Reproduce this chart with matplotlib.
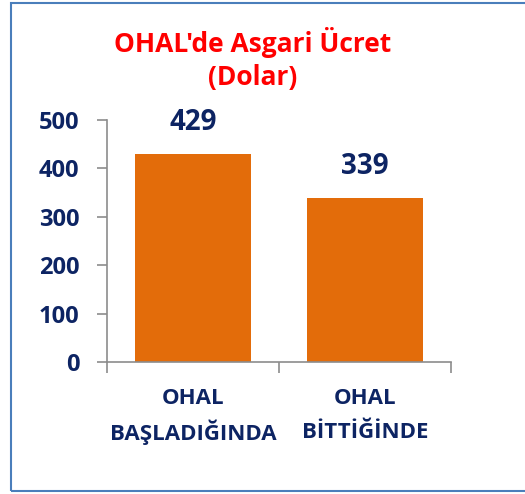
import matplotlib.pyplot as plt
from matplotlib.patches import Rectangle

categories = [('OHAL', 'BAŞLADIĞINDA'), ('OHAL', 'BİTTİĞİNDE')]
values = [429, 339]
yticks = [0, 100, 200, 300, 400, 500]
title_lines = ["OHAL'de Asgari Ücret", "(Dolar)"]

navy = '#0d2463'
orange = '#e36c0a'
plt.rcParams['font.family'] = ['Open Sans', 'DejaVu Sans']

fig = plt.figure(figsize=(5.25, 4.94), dpi=100)
W, H = 525, 494
# axes placed in pixel coordinates of the reference
ax = fig.add_axes([107 / W, 1 - 362 / H, (451 - 107) / W, (362 - 120) / H])

x = [0, 1]
bars = ax.bar(x, values, width=0.67, color=orange, zorder=2)
for b, v in zip(bars, values):
    ax.text(b.get_x() + b.get_width() / 2, v + 65, str(v), ha='center', va='center',
            fontsize=20, fontweight='bold', color=navy)

ax.set_xlim(-0.5, 1.5)
ax.set_ylim(0, 500)
ax.set_yticks(yticks)
ax.set_yticklabels([str(t) for t in yticks], fontsize=17, fontweight='bold', color=navy)
ax.set_xticks([-0.5, 0.5, 1.5])
ax.set_xticklabels([])
ax.tick_params(axis='y', length=7, width=1.2, color='#8c8c8c', pad=13)
ax.tick_params(axis='x', length=8, width=1.2, color='#8c8c8c')
for s in ['top', 'right']:
    ax.spines[s].set_visible(False)
for s in ['left', 'bottom']:
    ax.spines[s].set_color('#8c8c8c')
    ax.spines[s].set_linewidth(1.2)

for xi, (l1, l2) in zip(x, categories):
    xf = ax.transData.transform((xi, 0))[0] / W
    fig.text(xf, 1 - 398 / H, l1, ha='center', va='center',
             fontsize=16, fontweight='bold', color=navy)
    fig.text(xf, 1 - 432 / H, l2, ha='center', va='center',
             fontsize=16, fontweight='bold', color=navy)

fig.text(253 / W, 1 - 42 / H, title_lines[0], ha='center', va='center',
         fontsize=19, fontweight='bold', color='#ff0000')
fig.text(253 / W, 1 - 77 / H, title_lines[1], ha='center', va='center',
         fontsize=19, fontweight='bold', color='#ff0000')

fig.patches.append(Rectangle((11 / W, 3 / H), 1.2, 1 - 6 / H, transform=fig.transFigure,
                             fill=False, edgecolor='#4a7ebb', linewidth=1.5))

fig.savefig('out.png', dpi=100)
